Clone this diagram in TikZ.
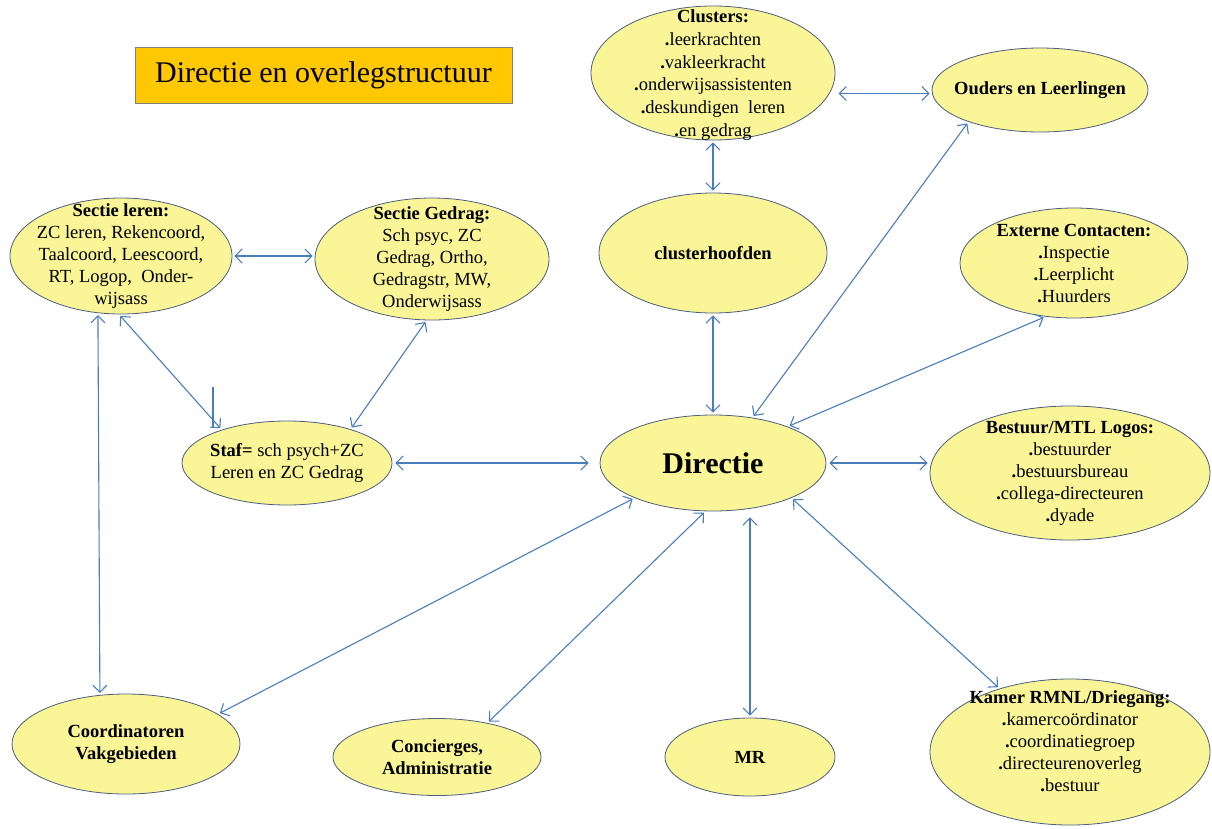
\documentclass[tikz,border=0pt]{standalone}
\usepackage{fontspec}
\setmainfont{Liberation Serif}
\usetikzlibrary{shapes.geometric,arrows.meta}
\definecolor{ellfill}{RGB}{250,245,150}
\definecolor{ellline}{RGB}{75,95,125}
\definecolor{arrcol}{RGB}{74,126,187}
\definecolor{titlefill}{RGB}{255,200,0}
\definecolor{titleline}{RGB}{128,128,128}
\begin{document}
\begin{tikzpicture}[x=1pt,y=-1pt,
  ell/.style={ellipse, draw=ellline, fill=ellfill, line width=0.8pt, inner sep=0pt},
  lab/.style={align=center, inner sep=0pt, font=\rmfamily\fontsize{18.5}{22}\selectfont},
  arr/.style={draw=arrcol, line width=1.1pt,
    {Straight Barb[length=7pt,width=14pt]}-{Straight Barb[length=7pt,width=14pt]},
    shorten <=2pt, shorten >=2pt}
]
\useasboundingbox (0,0) rectangle (1212,828);
\fill[white] (0,0) rectangle (1212,828);

\node[draw=titleline, fill=titlefill, line width=0.8pt, minimum width=377pt, minimum height=56pt,
  font=\rmfamily\fontsize{30}{36}\selectfont] (title) at (323.5,75) {Directie en overlegstructuur};

\node[ell, minimum width=244pt, minimum height=134pt,
  label={[lab, font=\rmfamily\fontsize{18.5}{22.8}\selectfont, yshift=-2pt]center:{\textbf{Clusters:}\\ \textbf{.}leerkrachten\\ \textbf{.}vakleerkracht\\ \textbf{.}onderwijsassistenten\\ \textbf{.}deskundigen\ \ leren\\ \textbf{.}en gedrag}}] (clusters) at (713,73) {};

\node[ell, minimum width=216pt, minimum height=84pt,
  label={[lab]center:{\textbf{Ouders en Leerlingen}}}] (ouders) at (1040,90) {};

\node[ell, minimum width=228pt, minimum height=120pt,
  label={[lab]center:{\textbf{clusterhoofden}}}] (clusterhoofden) at (713,253) {};

\node[ell, minimum width=228pt, minimum height=110pt,
  label={[lab]center:{\textbf{Externe Contacten:}\\ \textbf{.}Inspectie\\ \textbf{.}Leerplicht\\ \textbf{.}Huurders}}] (externe) at (1074,263) {};

\node[ell, minimum width=222pt, minimum height=116pt,
  label={[lab]center:{\textbf{Sectie leren:}\\ ZC leren, Rekencoord,\\ Taalcoord, Leescoord,\\ RT, Logop,\ \ Onder-\\ wijsass}}] (leren) at (121,256) {};

\node[ell, minimum width=234pt, minimum height=122pt,
  label={[lab]center:{\textbf{Sectie Gedrag:}\\ Sch psyc, ZC\\ Gedrag, Ortho,\\ Gedragstr, MW,\\ Onderwijsass}}] (gedrag) at (432,259) {};

\node[ell, minimum width=210pt, minimum height=84pt,
  label={[lab]center:{\textbf{Staf=}\ sch psych+ZC\\ Leren en ZC Gedrag}}] (staf) at (287,463) {};

\node[ell, minimum width=226pt, minimum height=96pt,
  label={[inner sep=0pt, font=\rmfamily\fontsize{30}{36}\selectfont\bfseries]center:{Directie}}] (directie) at (713,463) {};

\node[ell, minimum width=280pt, minimum height=134pt,
  label={[lab]center:{\textbf{Bestuur/MTL Logos:}\\ \textbf{.}bestuurder\\ \textbf{.}bestuursbureau\\ \textbf{.}collega-directeuren\\ \textbf{.}dyade}}] (bestuur) at (1070,473) {};

\node[ell, minimum width=280pt, minimum height=146pt,
  label={[lab, yshift=11pt]center:{\textbf{Kamer RMNL/Driegang:}\\ \textbf{.}kamerco\"ordinator\\ \textbf{.}coordinatiegroep\\ \textbf{.}directeurenoverleg\\ \textbf{.}bestuur}}] (kamer) at (1070,752) {};

\node[ell, minimum width=170pt, minimum height=78pt,
  label={[lab]center:{\textbf{MR}}}] (mr) at (750,757) {};

\node[ell, minimum width=208pt, minimum height=77pt,
  label={[lab]center:{\textbf{Concierges,}\\ \textbf{Administratie}}}] (concierges) at (437,757) {};

\node[ell, minimum width=228pt, minimum height=100pt,
  label={[lab]center:{\textbf{Coordinatoren}\\ \textbf{Vakgebieden}}}] (coord) at (126,744) {};

% connectors
\draw[arr, shorten <=9pt] (clusters.-10) -- (clusters.-10 -| ouders.west);
\draw[arr] (clusters.south) -- (clusterhoofden.north);
\draw[arr] (clusterhoofden.south) -- (directie.north);
\draw[arr] (ouders.204) -- (directie.49);
\draw[arr] (externe.242) -- (directie.26);
\draw[arr, shorten <=3pt] (directie.east) -- (directie.east -| bestuur.west);
\draw[arr] (directie.-24) -- (kamer.138);
\draw[arr, shorten <=6pt] (mr.north |- directie.south) -- (mr.north);
\draw[arr] (directie.-99) -- (concierges.34);
\draw[arr] (directie.204) -- (coord.18);
\draw[arr, shorten <=3pt, shorten >=11pt] (staf.east) -- (directie.west);
\draw[arr] (leren.east) -- (leren.east -| gedrag.west);
\draw[arr] (leren.-92) -- (staf.153);
\draw[arr] (gedrag.-95) -- (staf.28);
\draw[arr] (leren.-112) -- (coord.118);
\coordinate (s1) at (213,387);
\coordinate (s2) at (213,427);
\draw[draw=arrcol, line width=2pt] (s1) -- (s2);
\end{tikzpicture}
\end{document}
